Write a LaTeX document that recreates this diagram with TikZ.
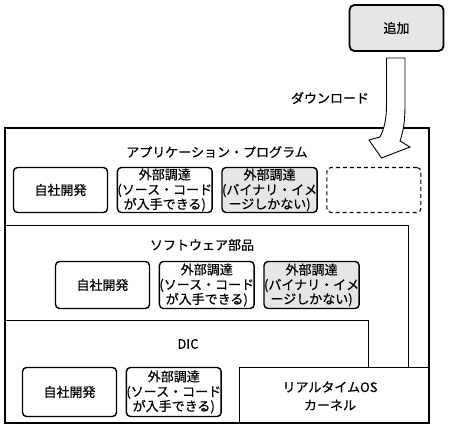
\documentclass[tikz,border=0pt]{standalone}
\usepackage{fontspec}
\setmainfont{Noto Sans CJK JP}[BoldFont={Noto Sans CJK JP}, BoldFeatures={FakeBold=0.5}]
\usetikzlibrary{positioning}
\definecolor{boxgray}{HTML}{E6E6E6}
\newcommand{\srctext}{外部調達\\[2pt](ソース・コード\\が入手できる)}
\newcommand{\bintext}{外部調達\\[2pt](バイナリ・イメ\\ージしかない)}
\tikzset{
  part/.style={draw, line width=1.4pt, rounded corners=4pt, minimum width=94pt, minimum height=45pt,
    inner sep=0pt, align=center, font=\fontsize{13}{13}\selectfont\bfseries},
  binpart/.style={part, fill=boxgray},
  emptypart/.style={part, line width=1.1pt, dash pattern=on 4pt off 3pt},
  layer/.style={draw, line width=0.9pt},
  layertitle/.style={inner sep=0pt, align=center, font=\fontsize{13}{13}\selectfont\bfseries},
}

\begin{document}
\begin{tikzpicture}[x=1pt, y=-1pt, node distance=8.5pt]
			%%%%% START %%%%%
			\def\xl{5}
			\def\xr{429}
			\def\yt{128}
			\def\yb{423}
			\def\ysoft{225}
			\def\xsoft{408}
			\def\ydic{320}
			\def\xdic{368}
			\def\xos{239}
			\def\yos{367}
			\useasboundingbox (0,0) rectangle (450,430);

			% layers
			\draw[layer] (\xl,\ysoft) rectangle (\xsoft,\yb);
			\draw[layer] (\xl,\ydic) rectangle (\xdic,\yb);
			\draw[layer, fill=white] (\xos,\yos) rectangle (\xr,\yb);
			\draw[line width=2pt] (\xl,\yt) rectangle (\xr,\yb);

			\node[layertitle] (apptitle) at (217,152) {アプリケーション・プログラム};
			\node[layertitle] (softtitle) at (202,245) {ソフトウェア部品};
			\node[layertitle] (dictitle) at (188,344) {DIC};
			\node[layertitle] (ostitle) at (330,396) {リアルタイムOS\\[5pt]カーネル};

			% application row
			\node[part] (appown) at (60.5,190) {自社開発};
			\node[part, right=of appown] (appsrc) {\srctext};
			\node[binpart, right=of appsrc] (appbin) {\bintext};
			\node[emptypart, right=of appbin] (appnew) {};

			% parts row
			\node[part, minimum height=47pt] (softown) at (102.5,285) {自社開発};
			\node[part, minimum height=47pt, right=of softown] (softsrc) {\srctext};
			\node[binpart, minimum height=47pt, right=of softsrc] (softbin) {\bintext};

			% DIC row
			\node[part, minimum height=49pt] (dicown) at (69.5,392) {自社開発};
			\node[part, minimum height=49pt, right=of dicown] (dicsrc) {\srctext};

			% addition and download arrow
			\node[binpart, line width=1.8pt, rounded corners=5pt, minimum height=46pt] (add) at (396.5,28) {追加};
			\node[layertitle] (download) at (330,98) {ダウンロード};
			\draw[line width=0.9pt, fill=white] (386.5,58) -- (386.5,105)
				.. controls (386.5,120) and (384,129) .. (380,137) -- (369,140) -- (381.5,158)
				-- (410,147) -- (400,141) .. controls (404,130) and (405,118) .. (405,105)
				-- (405,58) -- cycle;
			%%%%% END %%%%%
\end{tikzpicture}
\end{document}
